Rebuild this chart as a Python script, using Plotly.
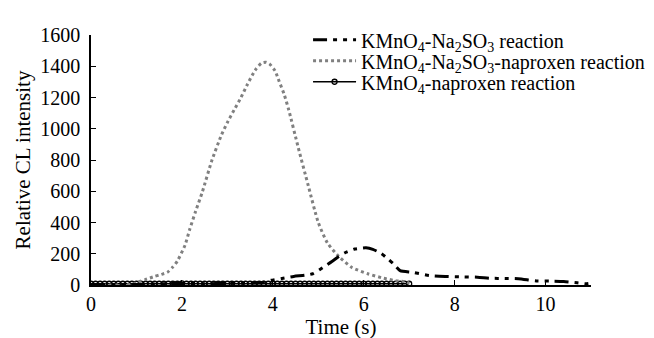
import plotly.graph_objects as go

# ---- data ----
t_sulfite = [0, 1, 2, 2.5, 3, 3.5, 3.8, 3.96, 4.2, 4.46, 4.7, 4.88, 5.1, 5.3, 5.45, 5.6, 5.8, 5.95,
             6.05, 6.2, 6.38, 6.52, 6.66, 6.8, 7.08, 7.44, 7.8, 8.2, 8.5, 8.8, 9.1, 9.4, 9.8, 10.1,
             10.4, 10.7, 10.9, 11.05]
i_sulfite = [4, 4, 10, 8, 10, 12, 18, 30, 42, 55, 62, 72, 112, 150, 183, 208, 230, 236,
             238, 228, 203, 170, 134, 92, 81, 61, 55, 52, 50, 43, 42, 40, 26, 25,
             22, 14, 8, 14]

t_sulfite_nap = [0, 0.5, 0.9, 1.04, 1.2, 1.4, 1.55, 1.68, 1.8, 1.9, 2.07, 2.17, 2.3, 2.45, 2.66, 2.87,
                 3.0, 3.15, 3.3, 3.44, 3.61, 3.75, 3.85, 3.93, 4.05, 4.14, 4.25, 4.35, 4.56, 4.78,
                 5.0, 5.2, 5.45, 5.74, 6.09, 6.44, 6.7, 6.94, 7.0]
i_sulfite_nap = [0, 0, 5, 20, 35, 55, 68, 81, 115, 153, 256, 354, 470, 596, 798, 960,
                 1040, 1121, 1200, 1283, 1374, 1420, 1425, 1414, 1370, 1303, 1220, 1121, 879, 636,
                 400, 270, 183, 112, 72, 43, 28, 20, 10]

t_nap = [0.0, 0.1, 0.2, 0.3, 0.4, 0.5, 0.6, 0.7, 0.8, 0.9, 1.0, 1.1, 1.2, 1.3, 1.4, 1.5, 1.6, 1.7,
         1.8, 1.9, 2.0, 2.1, 2.2, 2.3, 2.4, 2.5, 2.6, 2.7, 2.8, 2.9, 3.0, 3.1, 3.2, 3.3, 3.4, 3.5,
         3.6, 3.7, 3.8, 3.9, 4.0, 4.1, 4.2, 4.3, 4.4, 4.5, 4.6, 4.7, 4.8, 4.9, 5.0, 5.1, 5.2, 5.3,
         5.4, 5.5, 5.6, 5.7, 5.8, 5.9, 6.0, 6.1, 6.2, 6.3, 6.4, 6.5, 6.6, 6.7, 6.8, 6.9, 7.0]
i_nap = [8, 8, 8, 8, 8, 8, 8, 8, 8, 8, 8, 8, 8, 8, 8, 8, 8, 8,
         8, 8, 10, 8, 8, 8, 8, 8, 8, 8, 8, 8, 8, 8, 8, 8, 8, 8,
         8, 8, 8, 8, 8, 8, 8, 8, 8, 8, 8, 8, 8, 8, 8, 8, 8, 8,
         8, 8, 8, 8, 8, 8, 8, 8, 8, 8, 8, 8, 8, 8, 8, 8, 8]

x_ticks = [0, 2, 4, 6, 8, 10]
y_ticks = [0, 200, 400, 600, 800, 1000, 1200, 1400, 1600]

names = ["KMnO<sub>4</sub>-Na<sub>2</sub>SO<sub>3</sub> reaction",
         "KMnO<sub>4</sub>-Na<sub>2</sub>SO<sub>3</sub>-naproxen reaction",
         "KMnO<sub>4</sub>-naproxen reaction"]

FONT = "Liberation Serif, Times New Roman, serif"

fig = go.Figure()
fig.add_trace(go.Scatter(x=t_nap, y=i_nap, mode="lines+markers", name=names[2],
                         line=dict(color="black", width=1.5),
                         marker=dict(symbol="circle-open", size=5, color="black", line=dict(width=1.3)),
                         legend="legend3"))
fig.add_trace(go.Scatter(x=t_sulfite_nap, y=i_sulfite_nap, mode="lines", name=names[1],
                         line=dict(color="#808080", width=3, dash="dot", shape="spline", smoothing=0.6),
                         legend="legend2"))
fig.add_trace(go.Scatter(x=t_sulfite, y=i_sulfite, mode="lines", name=names[0],
                         line=dict(color="black", width=3, dash="14px,6px,4px,6px,4px,6px",
                                   shape="spline", smoothing=0.6),
                         legend="legend"))

# the page adds an 8px body margin, so the layout is placed 8px up/left
L, R, T, B = 83, 55, 15, 61
W, Hfig = 654, 338
PW = W - L - R
PH = Hfig - T - B
def ly(py):
    return 1 - (py - T) / PH

legend_common = dict(xanchor="left", yanchor="middle", x=(307 - L) / PW,
                     font=dict(family=FONT, size=20, color="black"),
                     bgcolor="rgba(0,0,0,0)", itemwidth=43)

fig.update_layout(
    width=W, height=Hfig,
    margin=dict(l=L, r=R, t=T, b=B),
    paper_bgcolor="white", plot_bgcolor="white",
    font=dict(family=FONT, size=20, color="black"),
    showlegend=True,
    legend=dict(y=ly(20), **legend_common),
    legend2=dict(y=ly(42), **legend_common),
    legend3=dict(y=ly(64), **legend_common),
    xaxis=dict(range=[0, 11.0], tickvals=x_ticks, ticktext=[str(v) for v in x_ticks],
               showline=True, linecolor="black", linewidth=1.5, ticks="inside", ticklen=5,
               tickcolor="black", showgrid=False, zeroline=False,
               title=dict(text="Time (s)", font=dict(size=21), standoff=4)),
    yaxis=dict(range=[0, 1600], tickvals=y_ticks, ticktext=[str(v) for v in y_ticks],
               showline=True, linecolor="black", linewidth=1.5, ticks="inside", ticklen=5,
               tickcolor="black", showgrid=False, zeroline=False, ticklabelstandoff=5,
               title=dict(text="Relative CL intensity", font=dict(size=21), standoff=4)),
)

fig.write_html("out.html")
